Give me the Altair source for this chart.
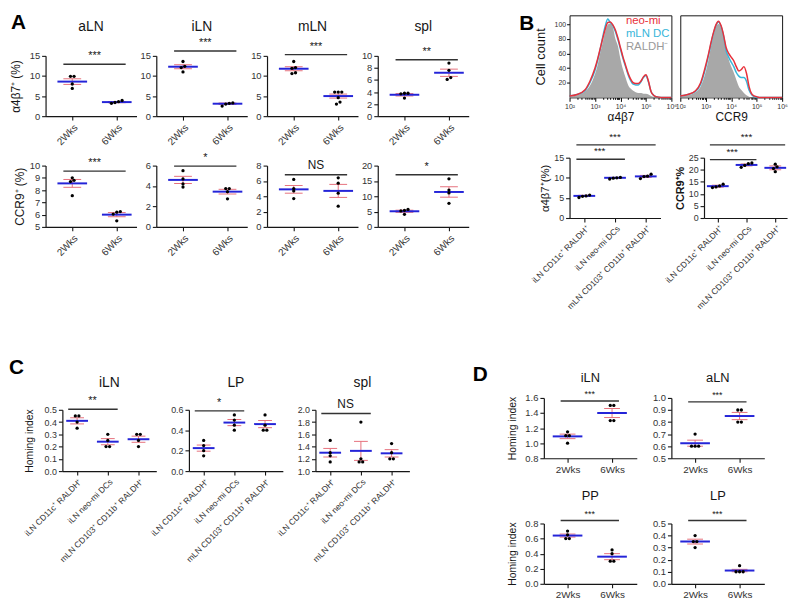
import json
import math
import altair as alt
import pandas as pd

FONT = "Liberation Sans"
BLUE = "#2424d8"
PINK = "#e6707c"
INK = "#161616"
TXT = "#333333"
RED = "#e8303a"
CYAN = "#38b6da"
GRAY_FILL = "#a8a8a8"

WEEKS = ["2Wks", "6Wks"]
DC_CATS = ["iLN CD11c⁺ RALDH⁺", "iLN neo-mi DCs", "mLN CD103⁺ CD11b⁺ RALDH⁺"]

# ---------------- Panel A, top row: a4b7+ (%)
A1_ALN_PTS = [[9.9, 9.9, 8.0, 6.9], [3.9, 3.6, 3.4, 3.2]]
A1_ALN_MEAN = [8.6, 3.5]
A1_ALN_SEM = [0.7, 0.15]
A1_ILN_PTS = [[13.6, 12.4, 12.1, 11.0], [3.3, 3.2, 3.0, 2.5]]
A1_ILN_MEAN = [12.3, 3.1]
A1_ILN_SEM = [0.5, 0.17]
A1_MLN_PTS = [[13.6, 12.1, 11.9, 10.8, 10.6], [6.0, 6.0, 6.0, 4.6, 3.5, 3.0]]
A1_MLN_MEAN = [11.8, 5.0]
A1_MLN_SEM = [0.5, 0.5]
A1_SPL_PTS = [[3.8, 3.8, 3.7, 3.0], [8.8, 7.6, 6.4, 6.1]]
A1_SPL_MEAN = [3.55, 7.2]
A1_SPL_SEM = [0.2, 0.6]
A1_SIG_Y = [12.9, 16.2, 15.3, 9.35]
A1_SIG_TXT = ["***", "***", "***", "**"]

# ---------------- Panel A, bottom row: CCR9+ (%)
A2_ALN_PTS = [[9.0, 8.8, 8.7, 7.55], [6.25, 6.2, 6.05, 5.5]]
A2_ALN_MEAN = [8.55, 6.0]
A2_ALN_SEM = [0.32, 0.17]
A2_ILN_PTS = [[5.5, 4.7, 4.2, 3.9], [3.75, 3.75, 3.45, 2.75]]
A2_ILN_MEAN = [4.6, 3.45]
A2_ILN_SEM = [0.35, 0.23]
A2_MLN_PTS = [[6.2, 5.0, 4.7, 3.7], [6.4, 5.7, 4.4, 2.7]]
A2_MLN_MEAN = [4.9, 4.7]
A2_MLN_SEM = [0.5, 0.85]
A2_SPL_PTS = [[5.7, 5.4, 5.2, 4.1], [15.7, 12.0, 11.1, 7.7]]
A2_SPL_MEAN = [5.1, 11.4]
A2_SPL_SEM = [0.35, 1.7]
A2_SIG_Y = [9.55, 5.95, 6.8, 17.0]
A2_SIG_TXT = ["***", "*", "NS", "*"]

# ---------------- Panel B histograms (x = log10 intensity, y = cell count)
HIST_X = [2.0, 2.3, 2.6, 2.8, 3.0, 3.1, 3.2, 3.3, 3.4, 3.5, 3.6, 3.7, 3.8, 3.9, 4.0, 4.1,
          4.2, 4.3, 4.4, 4.5, 4.6, 4.7, 4.8, 4.9, 5.0, 5.1, 5.2, 5.3, 5.4, 5.6, 6.0]
A4B7_GRAY = [1, 3, 8, 16, 32, 44, 60, 75, 90, 99, 101, 96, 80, 70, 52, 38,
             27, 17, 12, 9, 7, 6, 6, 5, 5, 4, 2, 1, 0, 0, 0]
A4B7_RED = [2, 4, 10, 22, 40, 52, 66, 80, 93, 102, 103, 99, 92, 81, 68, 55,
            44, 33, 25, 20, 19, 19, 22, 28, 31, 22, 8, 3, 1, 0, 0]
A4B7_CYAN = [2, 4, 9, 20, 37, 50, 65, 82, 97, 107, 102, 98, 90, 79, 66, 53,
             42, 31, 23, 18, 17, 17, 21, 27, 30, 21, 8, 3, 1, 0, 0]
CCR9_GRAY = [1, 3, 7, 15, 35, 50, 68, 84, 96, 100, 95, 82, 65, 52, 42, 34,
             24, 15, 10, 6, 3, 1, 0, 0, 0, 0, 0, 0, 0, 0, 0]
CCR9_RED = [2, 4, 9, 20, 44, 58, 74, 88, 99, 104, 98, 85, 68, 60, 55, 50,
            42, 36, 38, 42, 33, 15, 5, 2, 1, 0, 0, 0, 0, 0, 0]
CCR9_CYAN = [2, 4, 8, 18, 41, 56, 72, 87, 98, 103, 97, 84, 64, 55, 48, 42,
             34, 29, 27, 27, 22, 10, 4, 1, 0, 0, 0, 0, 0, 0, 0]
LEGEND_TXT = ["neo-mi", "mLN DC", "RALDH⁻"]
LEGEND_COL = [RED, CYAN, "#9a9a9a"]

# ---------------- Panel B scatter
B_A4B7_PTS = [[5.7, 5.5, 5.4, 5.1], [10.1, 10.0, 9.9, 9.7], [10.9, 10.4, 10.3, 9.8]]
B_A4B7_MEAN = [5.5, 10.0, 10.35]
B_A4B7_SEM = [0.15, 0.1, 0.25]
B_A4B7_SIG = [(0, 1, 14.6, "***"), (0, 2, 18.2, "***")]
B_CCR9_PTS = [[14.0, 13.3, 12.9, 12.6], [22.8, 22.5, 21.8, 21.0], [22.3, 21.2, 20.5, 19.2]]
B_CCR9_MEAN = [13.2, 22.0, 20.8]
B_CCR9_SEM = [0.4, 0.4, 0.8]
B_CCR9_SIG = [(0, 1, 24.2, "***"), (0, 2, 30.3, "***")]

# ---------------- Panel C: homing index
C_ILN_PTS = [[0.45, 0.45, 0.40, 0.35], [0.30, 0.25, 0.20, 0.20], [0.30, 0.30, 0.25, 0.20]]
C_ILN_MEAN = [0.41, 0.24, 0.26]
C_ILN_SEM = [0.025, 0.025, 0.025]
C_LP_PTS = [[0.30, 0.25, 0.20, 0.15], [0.55, 0.50, 0.45, 0.40], [0.55, 0.45, 0.40, 0.40]]
C_LP_MEAN = [0.225, 0.475, 0.46]
C_LP_SEM = [0.03, 0.03, 0.035]
C_SPL_PTS = [[1.5, 1.3, 1.25, 1.15], [1.8, 1.2, 1.15, 1.15], [1.45, 1.3, 1.2, 1.2]]
C_SPL_MEAN = [1.30, 1.33, 1.29]
C_SPL_SEM = [0.07, 0.155, 0.06]
C_SIG_Y = [0.505, 0.59, 1.94]
C_SIG_TXT = ["**", "*", "NS"]

# ---------------- Panel D: homing index
D_ILN_PTS = [[1.15, 1.10, 1.10, 1.00], [1.50, 1.50, 1.30, 1.30]]
D_ILN_MEAN = [1.09, 1.40]
D_ILN_SEM = [0.03, 0.06]
D_ALN_PTS = [[0.70, 0.60, 0.60, 0.60], [0.90, 0.90, 0.80, 0.80]]
D_ALN_MEAN = [0.625, 0.85]
D_ALN_SEM = [0.025, 0.03]
D_PP_PTS = [[0.70, 0.65, 0.60, 0.60], [0.45, 0.40, 0.30, 0.30]]
D_PP_MEAN = [0.64, 0.36]
D_PP_SEM = [0.02, 0.04]
D_LP_PTS = [[0.40, 0.35, 0.35, 0.30], [0.15, 0.10, 0.10, 0.10]]
D_LP_MEAN = [0.35, 0.11]
D_LP_SEM = [0.02, 0.01]
D_SIG_Y = [1.56, 0.967, 0.84, 0.525]


def ticks(a, b, step):
    n = int(round((b - a) / step))
    return [round(a + i * step, 4) for i in range(n + 1)]


def jitter(vals, ppu_y, ppu_x, tol_px=2.2, step_px=3.6):
    order = sorted(range(len(vals)), key=lambda i: vals[i])
    clusters = []
    for i in order:
        if clusters and abs(vals[i] - vals[clusters[-1][-1]]) * ppu_y < tol_px:
            clusters[-1].append(i)
        else:
            clusters.append([i])
    off = [0.0] * len(vals)
    for c in clusters:
        n = len(c)
        for k, i in enumerate(c):
            off[i] = (k - (n - 1) / 2) * step_px / ppu_x
    return off


def text_layer(txt, x, y, size, weight="normal", align="center", baseline="middle", color=INK):
    return alt.Chart(pd.DataFrame({"t": [txt]})).mark_text(
        fontSize=size, fontWeight=weight, align=align, baseline=baseline, color=color
    ).encode(x=alt.value(x), y=alt.value(y), text="t:N")


def anchor_layer(W, H, box):
    L, T, R, B = box
    return alt.Chart(pd.DataFrame({"a": [0]})).mark_rule(opacity=0, strokeWidth=1).encode(
        x=alt.value(-L), x2=alt.value(W + R), y=alt.value(-T), y2=alt.value(H + B))


def spacer():
    return alt.Chart(pd.DataFrame({"a": [0]})).mark_rule(opacity=0).encode(
        x=alt.value(0), x2=alt.value(1), y=alt.value(0), y2=alt.value(1)
    ).properties(width=1, height=1)


def boxed(*rows):
    return alt.hconcat(spacer(), alt.vconcat(spacer(), *rows, spacing=0), spacing=0)


def mk_panel(cats, pts, means, sems, ydom, yticks, xdom, W, H, box, title=None, title_y=-28,
             title_size=14, ytitle=None, ytitle_size=12, ytitle_pad=6, ytitle_bold=False,
             sigs=(), angle=-45, xlab_size=10, ylab_size=9.5, mean_w=28, cap_w=18,
             sig_ext=(-9, 9), sig_size=11, sig_dy=-3, letter=None, yfmt=None):
    ppu_x = W / (xdom[1] - xdom[0])
    ppu_y = H / (ydom[1] - ydom[0])
    rows = []
    for gi, vals in enumerate(pts):
        offs = jitter(vals, ppu_y, ppu_x)
        for v, o in zip(vals, offs):
            rows.append({"x": gi + o, "y": v})
    pdf = pd.DataFrame(rows)
    sdf = pd.DataFrame({
        "x": list(range(len(means))), "mean": means,
        "lo": [m - s for m, s in zip(means, sems)],
        "hi": [m + s for m, s in zip(means, sems)],
    })
    xs = alt.Scale(domain=list(xdom), nice=False, zero=False)
    ys = alt.Scale(domain=list(ydom), nice=False, zero=False)
    xaxis = alt.Axis(values=list(range(len(cats))),
                     labelExpr=json.dumps(cats, ensure_ascii=False) + "[datum.value]",
                     labelAngle=angle, labelFontSize=xlab_size, labelOverlap=False,
                     labelFlush=False, title=None, grid=False, tickSize=4, labelPadding=2)
    ykw = dict(values=yticks, labelFontSize=ylab_size, labelOverlap=False, labelFlush=False,
               grid=False, tickSize=4, labelPadding=2, title=ytitle, titleFontSize=ytitle_size,
               titleFontWeight="bold" if ytitle_bold else "normal", titlePadding=ytitle_pad)
    if yfmt:
        ykw["format"] = yfmt
    yaxis = alt.Axis(**ykw)

    def X(f):
        return alt.X(f + ":Q", scale=xs, axis=xaxis)

    def Y(f):
        return alt.Y(f + ":Q", scale=ys, axis=yaxis)

    layers = [anchor_layer(W, H, box)]
    layers.append(alt.Chart(sdf).mark_rule(color=PINK, strokeWidth=1).encode(
        x=X("x"), y=Y("lo"), y2="hi:Q"))
    for f in ("lo", "hi"):
        layers.append(alt.Chart(sdf).mark_tick(orient="horizontal", size=cap_w, thickness=1,
                                               color=PINK, opacity=1).encode(x=X("x"), y=Y(f)))
    layers.append(alt.Chart(sdf).mark_tick(orient="horizontal", size=mean_w, thickness=2,
                                           color=BLUE, opacity=1).encode(x=X("x"), y=Y("mean")))
    layers.append(alt.Chart(pdf).mark_point(filled=True, shape="circle", size=11, color="black",
                                            opacity=1).encode(x=X("x"), y=Y("y")))
    if sigs:
        gdf = pd.DataFrame({
            "x1": [s[0] for s in sigs], "x2": [s[1] for s in sigs],
            "y": [s[2] for s in sigs], "t": [s[3] for s in sigs],
            "xm": [(s[0] + s[1]) / 2 for s in sigs],
        })
        layers.append(alt.Chart(gdf).mark_rule(color="#333333", strokeWidth=1.4,
                                               xOffset=sig_ext[0], x2Offset=sig_ext[1]).encode(
            x=X("x1"), x2="x2:Q", y=Y("y")))
        layers.append(alt.Chart(gdf).mark_text(baseline="bottom", dy=sig_dy, fontSize=sig_size,
                                               color=INK).encode(x=X("xm"), y=Y("y"), text="t:N"))
    if title:
        layers.append(text_layer(title, W / 2, title_y, title_size))
    if letter:
        layers.append(text_layer(letter[0], letter[1], letter[2], 21, weight="bold",
                                 align="left", baseline="top", color="black"))
    return alt.layer(*layers).properties(width=W, height=H)


SUP = "['⁰','¹','²','³','⁴','⁵','⁶']"


def mk_hist(gray, red, cyan, W, H, box, xtitle, ytitle=None, show_y=True, legend=False, letter=None):
    df = pd.DataFrame({"x": HIST_X, "gray": gray, "red": red, "cyan": cyan})
    xs = alt.Scale(domain=[2, 6], nice=False, zero=False)
    ys = alt.Scale(domain=[0, 112], nice=False, zero=False)
    minors = [round(n + math.log10(k), 4) for n in range(2, 6) for k in range(2, 10)]
    vals = sorted([2, 3, 4, 5, 6] + minors)
    xaxis = alt.Axis(values=vals, domain=False, grid=False, labelOverlap=False, labelFlush=False,
                     labelExpr="datum.value == round(datum.value) ? '10' + " + SUP + "[datum.value] : ''",
                     tickSize={"condition": {"test": "datum.value == round(datum.value)", "value": 4},
                               "value": 2},
                     labelFontSize=7, labelPadding=1, title=xtitle, titleFontSize=12,
                     titleFontWeight="normal", titlePadding=2)
    if show_y:
        yaxis = alt.Axis(values=[20, 40, 60, 80, 100], domain=False, grid=False, tickSize=3,
                         labelFontSize=7, labelPadding=1, title=ytitle, titleFontSize=13,
                         titleFontWeight="normal", titlePadding=7)
    else:
        yaxis = None
    layers = [anchor_layer(W, H, box)]
    layers.append(alt.Chart(df).mark_area(color=GRAY_FILL, opacity=1, interpolate="monotone").encode(
        x=alt.X("x:Q", scale=xs, axis=xaxis), y=alt.Y("gray:Q", scale=ys, axis=yaxis)))
    layers.append(alt.Chart(df).mark_line(color=CYAN, strokeWidth=1.5, interpolate="monotone").encode(
        x=alt.X("x:Q", scale=xs, axis=xaxis), y=alt.Y("cyan:Q", scale=ys, axis=yaxis)))
    layers.append(alt.Chart(df).mark_line(color=RED, strokeWidth=1.5, interpolate="monotone").encode(
        x=alt.X("x:Q", scale=xs, axis=xaxis), y=alt.Y("red:Q", scale=ys, axis=yaxis)))
    if legend:
        for i, (t, c) in enumerate(zip(LEGEND_TXT, LEGEND_COL)):
            layers.append(text_layer(t, 57, 6 + 13 * i, 11.5, align="left", color=c))
    if letter:
        layers.append(text_layer(letter[0], letter[1], letter[2], 21, weight="bold",
                                 align="left", baseline="top", color="black"))
    return alt.layer(*layers).properties(
        width=W, height=H, view=alt.ViewBackground(stroke=INK, strokeWidth=1))


# ======================= Panel A
A_W, A_H1, A_H2 = 92, 61, 62
A_XDOM = (-0.6, 1.444)
a1_specs = [
    ("aLN", A1_ALN_PTS, A1_ALN_MEAN, A1_ALN_SEM, (0, 15), ticks(0, 15, 5)),
    ("iLN", A1_ILN_PTS, A1_ILN_MEAN, A1_ILN_SEM, (0, 15), ticks(0, 15, 5)),
    ("mLN", A1_MLN_PTS, A1_MLN_MEAN, A1_MLN_SEM, (0, 15), ticks(0, 15, 5)),
    ("spl", A1_SPL_PTS, A1_SPL_MEAN, A1_SPL_SEM, (0, 10), ticks(0, 10, 2)),
]
a1 = []
for i, (t, p, m, s, yd, yt) in enumerate(a1_specs):
    box = (35 if i == 0 else 0, 44, 20 if i == 3 else 0, 35)
    a1.append(mk_panel(WEEKS, p, m, s, yd, yt, A_XDOM, A_W, A_H1, box, title=t, title_y=-29,
                       ytitle="α4β7⁺ (%)" if i == 0 else None, ytitle_pad=7,
                       sigs=[(0, 1, A1_SIG_Y[i], A1_SIG_TXT[i])], mean_w=30, cap_w=18,
                       letter=("A", -35, -44) if i == 0 else None))
a2_specs = [
    (A2_ALN_PTS, A2_ALN_MEAN, A2_ALN_SEM, (5, 10), ticks(5, 10, 1)),
    (A2_ILN_PTS, A2_ILN_MEAN, A2_ILN_SEM, (0, 6), ticks(0, 6, 2)),
    (A2_MLN_PTS, A2_MLN_MEAN, A2_MLN_SEM, (0, 8), ticks(0, 8, 2)),
    (A2_SPL_PTS, A2_SPL_MEAN, A2_SPL_SEM, (0, 20), ticks(0, 20, 5)),
]
a2 = []
for i, (p, m, s, yd, yt) in enumerate(a2_specs):
    box = (35 if i == 0 else 0, 15, 20 if i == 3 else 0, 25)
    a2.append(mk_panel(WEEKS, p, m, s, yd, yt, A_XDOM, A_W, A_H2, box,
                       ytitle="CCR9⁺ (%)" if i == 0 else None, ytitle_pad=3,
                       sigs=[(0, 1, A2_SIG_Y[i], A2_SIG_TXT[i])], mean_w=30, cap_w=18,
                       sig_size=12 if A2_SIG_TXT[i] == "NS" else 11))
A_block = boxed(alt.hconcat(*a1, spacing=20, bounds="flush"),
                alt.hconcat(*a2, spacing=20, bounds="flush"))

# ======================= Panel B
h1 = mk_hist(A4B7_GRAY, A4B7_RED, A4B7_CYAN, 103, 83, (80, 2, 0, 23), "α4β7",
             ytitle="Cell count", legend=True, letter=("B", -51, -2))
h2 = mk_hist(CCR9_GRAY, CCR9_RED, CCR9_CYAN, 103, 83, (0, 2, 8, 23), "CCR9", show_y=False)
s1 = mk_panel(DC_CATS, B_A4B7_PTS, B_A4B7_MEAN, B_A4B7_SEM, (0, 15), ticks(0, 15, 5),
              (-0.48, 2.48), 92, 61, (79, 35, 0, 106), ytitle="α4β7⁺(%)", ytitle_size=11.5,
              ytitle_pad=3, sigs=B_A4B7_SIG, xlab_size=8.5, ylab_size=9, mean_w=22, cap_w=12,
              sig_ext=(-8, 10), sig_size=10)
s2 = mk_panel(DC_CATS, B_CCR9_PTS, B_CCR9_MEAN, B_CCR9_SEM, (0, 25), ticks(0, 25, 5),
              (-0.48, 2.41), 84, 61, (0, 35, 5, 106), ytitle="CCR9⁺%", ytitle_size=11,
              ytitle_bold=True, ytitle_pad=3, sigs=B_CCR9_SIG, xlab_size=8.5, ylab_size=9,
              mean_w=22, cap_w=12, sig_ext=(-8, 10), sig_size=10)
B_block = boxed(alt.hconcat(h1, h2, spacing=9, bounds="flush"),
                alt.hconcat(s1, s2, spacing=44, bounds="flush"))

top = alt.hconcat(A_block, B_block, spacing=0)

# ======================= Panel C
c_specs = [
    ("iLN", C_ILN_PTS, C_ILN_MEAN, C_ILN_SEM, (0, 0.5), ticks(0, 0.5, 0.1)),
    ("LP", C_LP_PTS, C_LP_MEAN, C_LP_SEM, (0, 0.6), ticks(0, 0.6, 0.2)),
    ("spl", C_SPL_PTS, C_SPL_MEAN, C_SPL_SEM, (1.0, 2.0), ticks(1.0, 2.0, 0.2)),
]
cp = []
for i, (t, p, m, s, yd, yt) in enumerate(c_specs):
    box = (54 if i == 0 else 0, 87, 19 if i == 2 else 0, 92)
    cp.append(mk_panel(DC_CATS, p, m, s, yd, yt, (-0.48, 2.58), 95, 62, box, title=t,
                       title_y=-27, ytitle="Homing index" if i == 0 else None, ytitle_size=10.5,
                       ytitle_pad=10, sigs=[(0, 1, C_SIG_Y[i], C_SIG_TXT[i])], xlab_size=8.5,
                       ylab_size=9, mean_w=22, cap_w=14, sig_ext=(-9, 10), yfmt=".1f",
                       sig_size=12 if C_SIG_TXT[i] == "NS" else 11,
                       letter=("C", -54, -53) if i == 0 else None))
C_block = boxed(alt.hconcat(*cp, spacing=33, bounds="flush"))

# ======================= Panel D
D_XDOM = (-0.533, 1.556)
d_specs = [
    ("iLN", D_ILN_PTS, D_ILN_MEAN, D_ILN_SEM, (0.8, 1.6), ticks(0.8, 1.6, 0.2)),
    ("aLN", D_ALN_PTS, D_ALN_MEAN, D_ALN_SEM, (0.5, 1.0), ticks(0.5, 1.0, 0.1)),
    ("PP", D_PP_PTS, D_PP_MEAN, D_PP_SEM, (0.0, 0.8), ticks(0.0, 0.8, 0.2)),
    ("LP", D_LP_PTS, D_LP_MEAN, D_LP_SEM, (0.0, 0.5), ticks(0.0, 0.5, 0.1)),
]
dp = []
for i, (t, p, m, s, yd, yt) in enumerate(d_specs):
    row = i // 2
    col = i % 2
    H = 61
    box = (116 if col == 0 else 0, 75 if row == 0 else 40, 14 if col == 1 else 0,
           26 if row == 0 else 15)
    dp.append(mk_panel(WEEKS, p, m, s, yd, yt, D_XDOM, 94, H, box, title=t,
                       title_y=-20 if row == 0 else -28, title_size=13,
                       ytitle="Homing index" if col == 0 else None, ytitle_size=10.5,
                       ytitle_pad=7, sigs=[(0, 1, D_SIG_Y[i], "***")], angle=0, xlab_size=10,
                       ylab_size=9.5, mean_w=30, cap_w=16, sig_ext=(-7, 7), sig_size=9,
                       sig_dy=-2, yfmt=".1f",
                       letter=("D", -72, -34) if i == 0 else None))
D_block = boxed(alt.hconcat(dp[0], dp[1], spacing=35, bounds="flush"),
                alt.hconcat(dp[2], dp[3], spacing=35, bounds="flush"))

bottom = alt.hconcat(C_block, D_block, spacing=0)

chart = alt.vconcat(top, bottom, spacing=0).properties(padding=0).configure(
    font=FONT
).configure_view(
    strokeWidth=0
).configure_axis(
    labelColor=TXT, titleColor=INK, domainColor=INK, tickColor=INK,
    domainWidth=1.2, tickWidth=1.1, labelFont=FONT, titleFont=FONT
)

chart.save("out.html", embed_options={"renderer": "svg", "actions": False})
